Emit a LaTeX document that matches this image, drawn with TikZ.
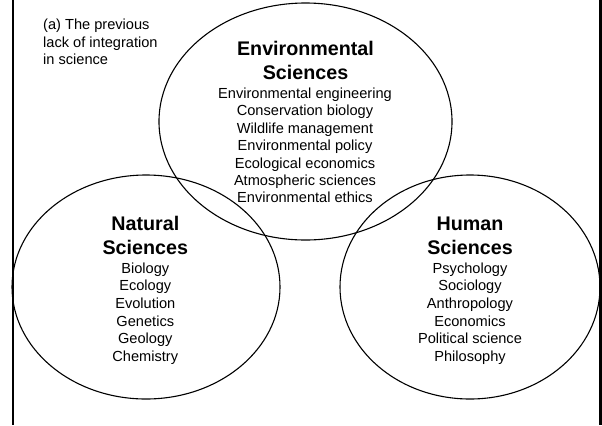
\documentclass[tikz,border=0pt]{standalone}
\usepackage{fontspec}
\setmainfont{Liberation Sans}
\begin{document}
\begin{tikzpicture}[x=1bp,y=-1bp,
  field/.style={draw=black, line width=1.1bp},
  frameline/.style={draw=black, line width=2.2bp},
  heading/.style={anchor=base, inner sep=0pt, font=\fontsize{19.7bp}{23.5bp}\selectfont\bfseries},
  item/.style={anchor=base, inner sep=0pt, font=\fontsize{14.6bp}{17.4bp}\selectfont},
  caption/.style={anchor=base west, inner sep=0pt, font=\fontsize{14.6bp}{17.4bp}\selectfont}]
\useasboundingbox (0,0) rectangle (602,425);

% side rules of the panel
\draw[frameline] (13,0) -- (13,425);
\draw[frameline] (600.5,0) -- (600.5,425);

% the three fields
\coordinate (envc) at (305.5,121.5);
\coordinate (natc) at (146,287);
\coordinate (humc) at (470,287);
\draw[field] (envc) ellipse [x radius=146.5bp, y radius=118.5bp];
\draw[field] (natc) ellipse [x radius=134bp, y radius=112bp];
\draw[field] (humc) ellipse [x radius=130bp, y radius=112bp];

% panel caption
\foreach \t [count=\i] in {(a) The previous, lack of integration, in science}
  \node[caption] (cap-\i) at (43,{29.5+17.5*(\i-1)}) {\t};

% Environmental Sciences
\node[heading] (envh1) at (305.5,55.7) {Environmental};
\node[heading] (envh2) at (305.5,79) {Sciences};
\foreach \t [count=\i] in {Environmental engineering, Conservation biology,
    Wildlife management, Environmental policy, Ecological economics,
    Atmospheric sciences, Environmental ethics}
  \node[item] (env-\i) at (305,{98.5+17.4*(\i-1)}) {\t};

% Natural Sciences
\node[heading] (nath1) at (145.3,230) {Natural};
\node[heading] (nath2) at (145.3,254) {Sciences};
\foreach \t [count=\i] in {Biology, Ecology, Evolution, Genetics, Geology, Chemistry}
  \node[item] (nat-\i) at (145.3,{273+17.7*(\i-1)}) {\t};

% Human Sciences
\node[heading] (humh1) at (470,230) {Human};
\node[heading] (humh2) at (470,254) {Sciences};
\foreach \t [count=\i] in {Psychology, Sociology, Anthropology, Economics,
    Political science, Philosophy}
  \node[item] (hum-\i) at (470,{273+17.7*(\i-1)}) {\t};
\end{tikzpicture}
\end{document}
